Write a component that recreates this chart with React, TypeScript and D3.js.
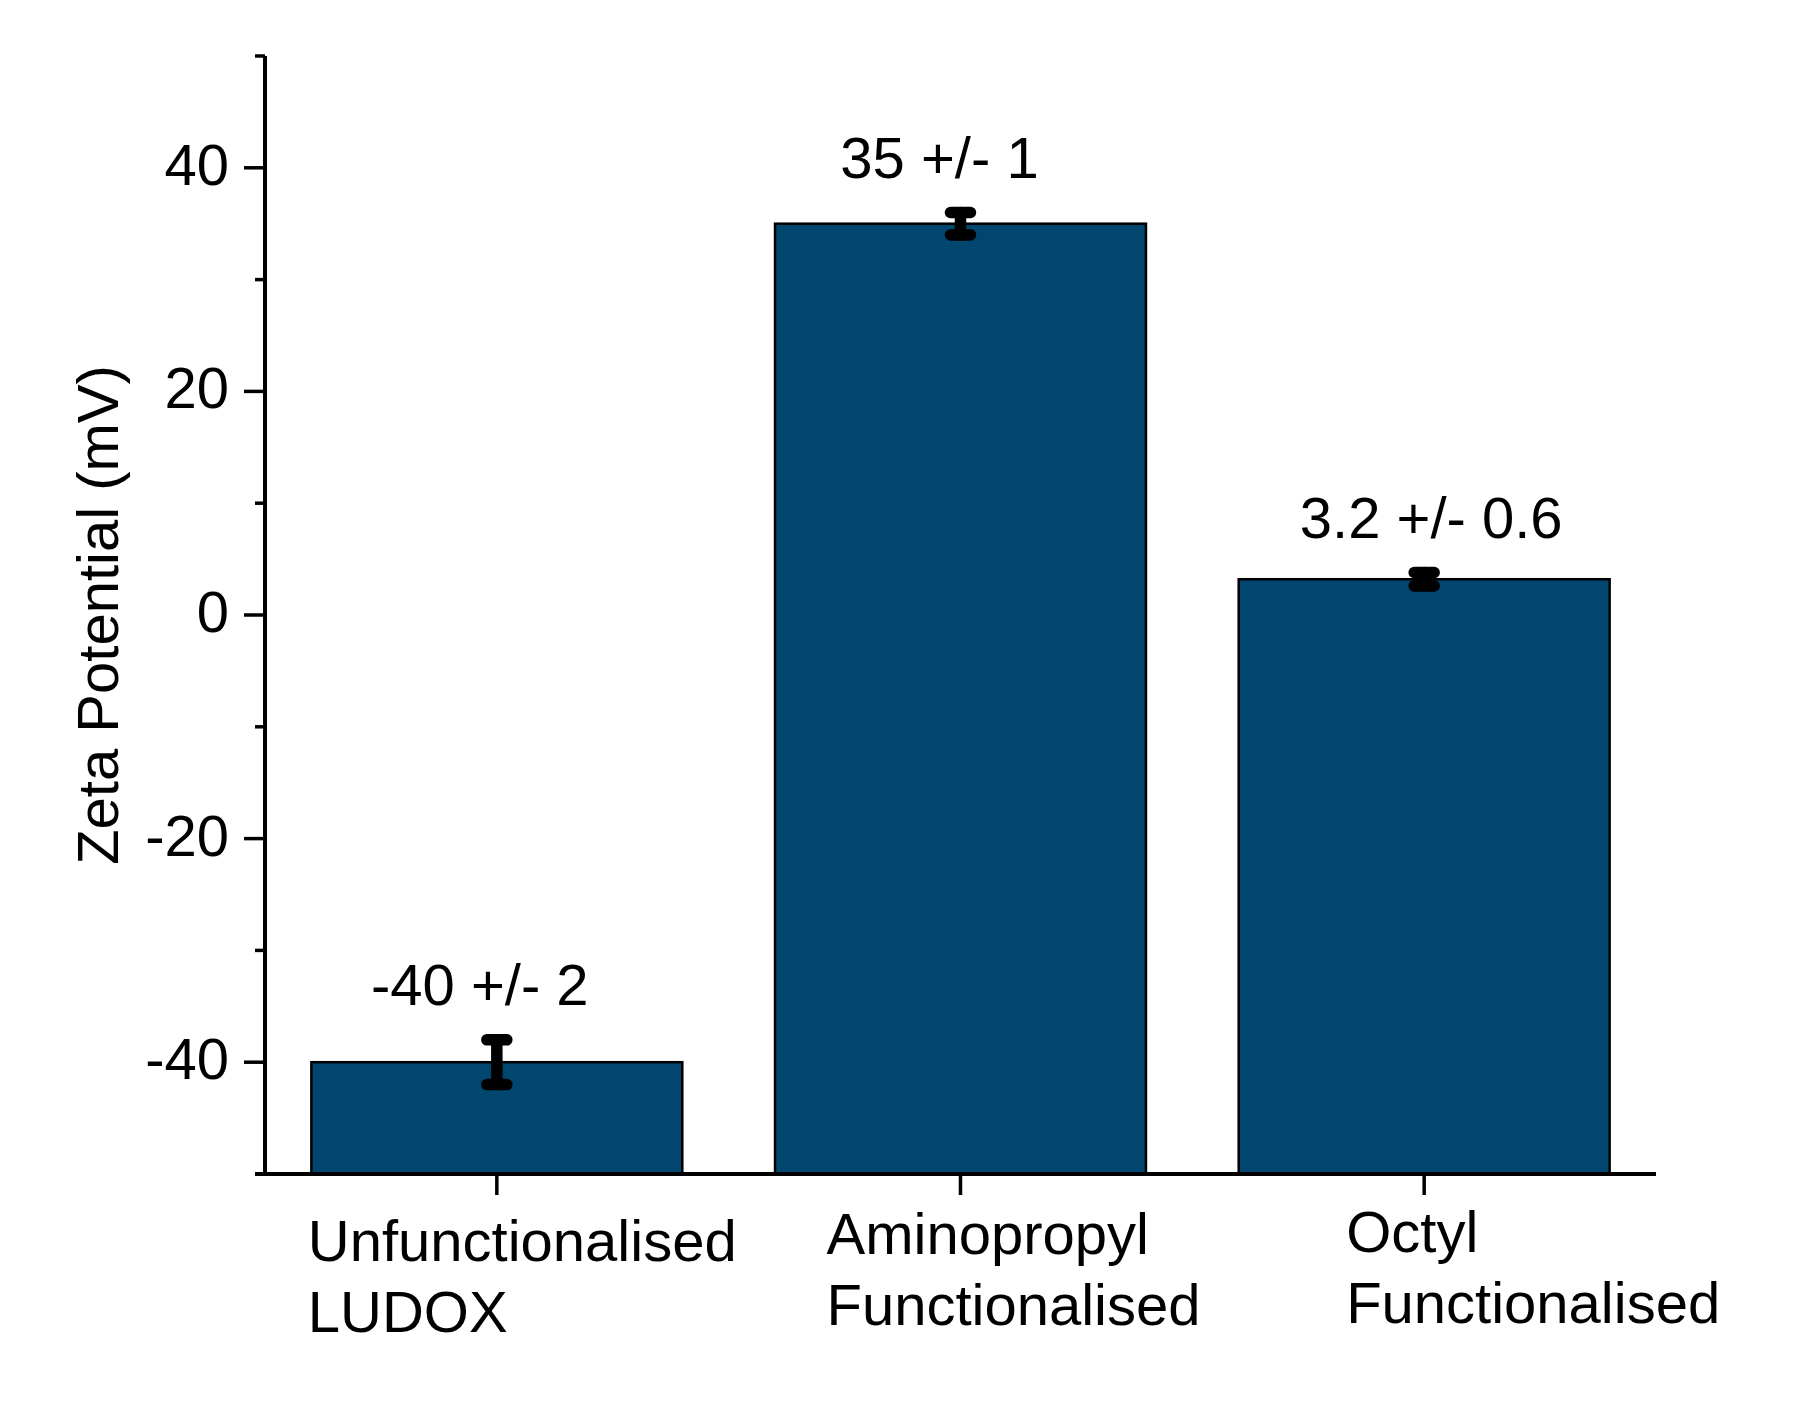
import React from "react";
import * as d3 from "d3";

const categories: string[][] = [
  ["Unfunctionalised", "LUDOX"],
  ["Aminopropyl", "Functionalised"],
  ["Octyl", "Functionalised"],
];
const values = [-40, 35, 3.2];
const errors = [2, 1, 0.6];
const valueLabels = ["-40 +/- 2", "35 +/- 1", "3.2 +/- 0.6"];
const yMajorTicks = [-40, -20, 0, 20, 40];
const yMinorTicks = [-50, -30, -10, 10, 30, 50];
const yTitle = "Zeta Potential (mV)";

// layout (pixels)
const W = 1815;
const H = 1408;
const valueLabelDx = [-17, -21, 7];
const catLabelDx = [-189, -134, -78];
const catLabelBaseline = [1261, 1254, 1252];
const FONT = "'Liberation Sans', Arial, sans-serif";
const BAR_FILL = "#01466F";

export default function App() {
  const x = d3.scaleLinear().domain([0.5, 3.5]).range([265, 1656]);
  const y = d3.scaleLinear().domain([-50, 50]).range([1174, 56]);
  const barW = 0.8;
  const fs = 58;

  return (
    <svg
      width={W}
      height={H}
      style={{ position: "absolute", left: 0, top: 0, background: "#fff" }}
      fontFamily={FONT}
    >
      <rect x={0} y={0} width={W} height={H} fill="#fff" />
      {/* bars */}
      {values.map((v, i) => {
        const c = i + 1;
        const x0 = x(c - barW / 2);
        const x1 = x(c + barW / 2);
        return (
          <rect
            key={"b" + i}
            x={x0}
            y={y(v)}
            width={x1 - x0}
            height={y(-50) - y(v)}
            fill={BAR_FILL}
            stroke="#000"
            strokeWidth={2.5}
          />
        );
      })}
      {/* error bars */}
      {values.map((v, i) => {
        const cx = x(i + 1);
        const hi = y(v + errors[i]);
        const lo = y(v - errors[i]);
        return (
          <g key={"e" + i} stroke="#000" strokeWidth={11.5} strokeLinecap="round">
            <line x1={cx} x2={cx} y1={hi} y2={lo} />
            <line x1={cx - 10} x2={cx + 10} y1={hi} y2={hi} />
            <line x1={cx - 10} x2={cx + 10} y1={lo} y2={lo} />
          </g>
        );
      })}
      {/* value labels */}
      {values.map((v, i) => (
        <text
          key={"v" + i}
          x={x(i + 1) + valueLabelDx[i]}
          y={y(v + errors[i]) - 35}
          fontSize={fs}
          textAnchor="middle"
          fill="#000"
        >
          {valueLabels[i]}
        </text>
      ))}
      {/* y axis */}
      <line x1={x(0.5)} x2={x(0.5)} y1={y(50)} y2={y(-50)} stroke="#000" strokeWidth={4} />
      {yMajorTicks.map((t) => (
        <g key={"yt" + t}>
          <line x1={x(0.5) - 21} x2={x(0.5)} y1={y(t)} y2={y(t)} stroke="#000" strokeWidth={3.5} />
          <text x={x(0.5) - 36} y={y(t) + 17} fontSize={fs} textAnchor="end" fill="#000">
            {t}
          </text>
        </g>
      ))}
      {yMinorTicks.map((t) => (
        <line key={"ym" + t} x1={x(0.5) - 10} x2={x(0.5)} y1={y(t)} y2={y(t)} stroke="#000" strokeWidth={3.5} />
      ))}
      {/* x axis */}
      <line x1={x(0.5) - 10} x2={x(3.5)} y1={y(-50)} y2={y(-50)} stroke="#000" strokeWidth={4} />
      {categories.map((lines, i) => (
        <g key={"xc" + i}>
          <line
            x1={x(i + 1)}
            x2={x(i + 1)}
            y1={y(-50)}
            y2={y(-50) + 21}
            stroke="#000"
            strokeWidth={3.5}
          />
          <text fontSize={fs} fill="#000">
            {lines.map((ln, j) => (
              <tspan key={j} x={x(i + 1) + catLabelDx[i]} y={catLabelBaseline[i] + j * 71}>
                {ln}
              </tspan>
            ))}
          </text>
        </g>
      ))}
      {/* y title */}
      <text
        transform={`translate(118, ${y(0)}) rotate(-90)`}
        fontSize={58}
        textAnchor="middle"
        fill="#000"
      >
        {yTitle}
      </text>
    </svg>
  );
}
